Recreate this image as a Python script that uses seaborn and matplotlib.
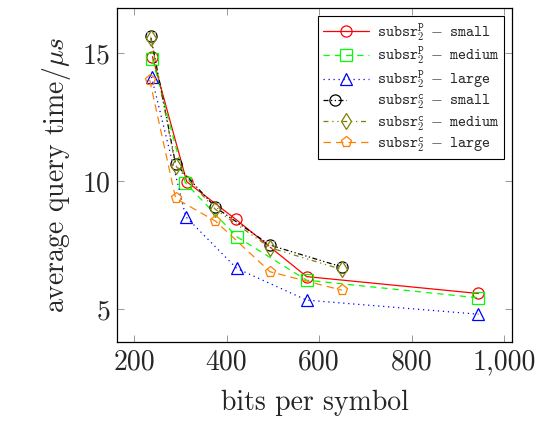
import matplotlib
matplotlib.use("Agg")
import matplotlib.pyplot as plt
from matplotlib.ticker import FuncFormatter
from matplotlib.legend_handler import HandlerTuple
import seaborn as sns
import pandas as pd

# bits per symbol / average query time (us) per series
xp_small = [240, 314, 420, 573, 944]
yp_small = [14.87, 9.98, 8.51, 6.27, 5.61]
xp_medium = [240, 311, 422, 573, 944]
yp_medium = [14.78, 9.94, 7.83, 6.13, 5.44]
xp_large = [238, 312, 422, 573, 944]
yp_large = [14.08, 8.61, 6.59, 5.35, 4.80]
xc_small = [236, 290, 376, 494, 649]
yc_small = [15.68, 10.67, 8.98, 7.50, 6.65]
xc_medium = [236, 290, 376, 494, 649]
yc_medium = [15.62, 10.60, 8.90, 7.40, 6.55]
xc_large = [234, 290, 376, 494, 649]
yc_large = [13.96, 9.33, 8.44, 6.46, 5.74]

sns.set_style("ticks")
plt.rcParams["font.family"] = ["serif"]
plt.rcParams["font.serif"] = ["cmr10", "DejaVu Serif"]
plt.rcParams["mathtext.fontset"] = "cm"
plt.rcParams["axes.formatter.use_mathtext"] = True

def lab(sup, size):
    return r"$\mathtt{subsr}_2^{\mathtt{%s}}\;-\;\mathtt{%s}$" % (sup, size)

series = [
    (xp_small, yp_small, lab("p", "small"), "#ff0000", "-", "o"),
    (xp_medium, yp_medium, lab("p", "medium"), "#00ff00", (0, (5, 4)), "s"),
    (xp_large, yp_large, lab("p", "large"), "#0000ff", (0, (1, 3)), "^"),
    (xc_small, yc_small, lab("c", "small"), "black", (0, (4, 2, 1, 2, 1, 2)), "o"),
    (xc_medium, yc_medium, lab("c", "medium"), "#808000", (0, (4, 3, 1, 3, 1, 3)), "d"),
    (xc_large, yc_large, lab("c", "large"), "#ff8000", (0, (6, 4)), "p"),
]

fig = plt.figure(figsize=(5.43, 4.26), dpi=100)
ax = fig.add_axes([0.216, 0.197, 0.7264, 0.784])

handles, labels = [], []
for xs, ys, name, col, ls, mk in series:
    df = pd.DataFrame({"x": xs, "y": ys})
    sns.lineplot(data=df, x="x", y="y", ax=ax, sort=False, color=col,
                 linestyle=ls, linewidth=0.9, marker=mk, markersize=8,
                 markerfacecolor="none", markeredgecolor=col,
                 markeredgewidth=0.9, errorbar=None)
    line = ax.lines[-1]
    if mk == "o" and col == "black":
        sns.lineplot(data=df, x="x", y="y", ax=ax, sort=False, color=col,
                     linestyle="none", marker="x", markersize=5.5,
                     markeredgewidth=0.9, errorbar=None)
        handles.append((line, ax.lines[-1]))
    else:
        handles.append(line)
    labels.append(name)

ax.set_xlim(164, 1016)
ax.set_ylim(3.71, 16.77)
ax.set_xticks([200, 400, 600, 800, 1000])
ax.set_yticks([5, 10, 15])
ax.xaxis.set_major_formatter(FuncFormatter(lambda v, p: f"{int(v):,}"))
ax.tick_params(direction="in", top=True, right=True, length=5,
               width=0.6, color="#888888", labelsize=20, pad=5)
for s in ax.spines.values():
    s.set_linewidth(0.9)
    s.set_color("black")
ax.set_xlabel("bits per symbol", fontsize=20, labelpad=10)
ax.set_ylabel(r"average query time/$\mu s$", fontsize=20, labelpad=6)

leg = ax.legend(handles, labels, loc="upper right", fontsize=11,
                handler_map={tuple: HandlerTuple(ndivide=None, pad=0)},
                fancybox=False, edgecolor="black", framealpha=1,
                handlelength=3.0, borderpad=0.35, labelspacing=0.15,
                handletextpad=0.5, borderaxespad=0.5)
leg.get_frame().set_linewidth(0.8)

fig.savefig("out.png", dpi=100)
